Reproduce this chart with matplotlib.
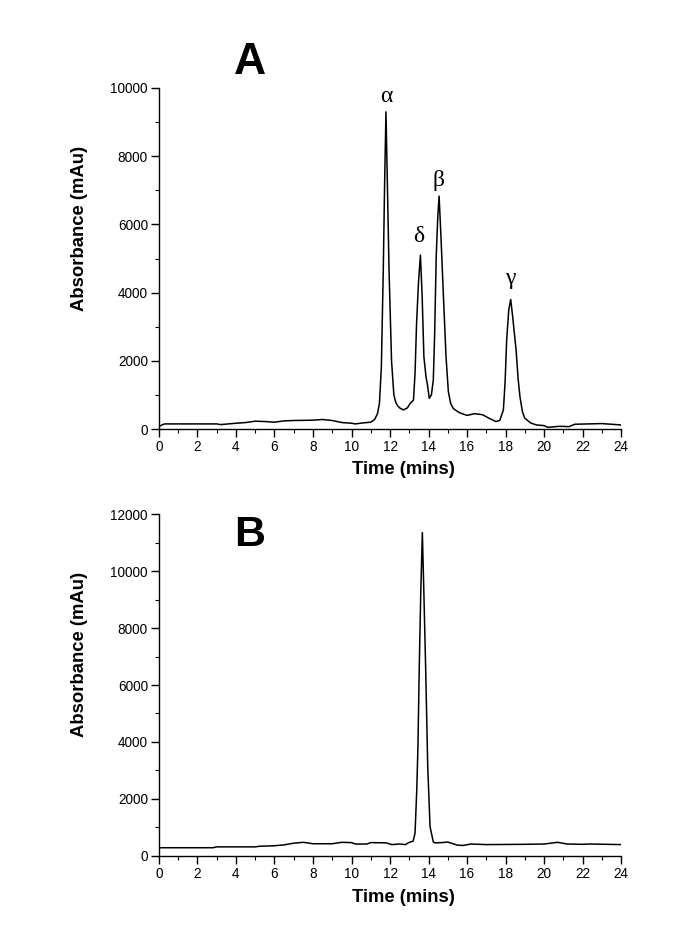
import matplotlib
matplotlib.use("Agg")
import matplotlib.pyplot as plt
from matplotlib.ticker import MultipleLocator

# Panel A chromatogram (time in min, absorbance in mAu)
time_a = [0.0, 0.15, 0.3, 1.0, 2.0, 3.0, 3.2, 3.6, 4.0, 4.5, 5.0, 5.5, 6.0, 6.5, 7.0, 8.0, 8.5,
          9.0, 9.5, 10.0, 10.2, 10.6, 11.0, 11.2, 11.35, 11.45, 11.55, 11.65, 11.72, 11.79,
          11.87, 11.95, 12.08, 12.2, 12.3, 12.4, 12.5, 12.7, 12.9, 13.05, 13.22, 13.3, 13.38,
          13.48, 13.58, 13.67, 13.76, 13.87, 13.94, 14.04, 14.15, 14.25, 14.32, 14.4, 14.48,
          14.55, 14.65, 14.77, 14.91, 15.03, 15.15, 15.29, 15.6, 16.0, 16.4, 16.8, 17.2,
          17.5, 17.7, 17.89, 17.98, 18.06, 18.17, 18.27, 18.37, 18.55, 18.65, 18.75, 18.88,
          19.0, 19.3, 19.6, 20.0, 20.2, 20.8, 21.3, 21.6, 22.3, 23.0, 24.0]
abs_a = [70, 120, 150, 150, 150, 150, 130, 150, 170, 190, 230, 220, 200, 240, 250, 260, 280,
         250, 190, 170, 150, 180, 200, 280, 450, 750, 1800, 4650, 7200, 9300,
         7000, 4650, 2000, 1000, 780, 680, 620, 560, 620, 750, 850, 1630, 3100,
         4300, 5100, 3900, 2120, 1530, 1320, 900, 1000, 1440, 2800, 5060, 6200,
         6830, 5600, 3960, 2120, 1100, 750, 600, 480, 400, 450, 420, 300,
         220, 250, 560, 1400, 2610, 3500, 3800, 3300, 2320, 1500, 950, 500,
         320, 180, 120, 100, 50, 80, 70, 140, 150, 160, 120]

# Panel B chromatogram
time_b = [0.0, 2.8, 3.0, 5.0, 5.2, 6.0, 6.5, 7.0, 7.5, 8.0, 9.0, 9.5, 10.0, 10.2, 10.8, 11.0,
          11.8, 12.1, 12.5, 12.8, 13.0, 13.2, 13.3, 13.39, 13.45, 13.52, 13.6, 13.68, 13.76,
          13.85, 13.96, 14.08, 14.25, 14.35, 14.7, 15.0, 15.5, 15.8, 16.2, 17.0, 19.0, 20.0,
          20.7, 21.2, 22.0, 22.4, 24.0]
abs_b = [290, 290, 320, 320, 340, 360, 390, 450, 480, 430, 430, 480, 470, 420, 420, 470,
         460, 400, 420, 400, 480, 520, 800, 2320, 3800, 6650, 9300, 11350, 9200,
         6650, 3130, 1030, 490, 460, 470, 490, 380, 370, 420, 400, 410, 420,
         480, 420, 410, 420, 400]

xticks = list(range(0, 25, 2))
yticks_a = list(range(0, 10001, 2000))
yticks_b = list(range(0, 12001, 2000))

peak_labels = ["α", "δ", "β", "γ"]
peak_label_x = [11.79, 13.5, 14.53, 18.26]
peak_label_y = [9590, 5480, 7120, 4250]

fig = plt.figure(figsize=(6.85, 9.39), dpi=100)
plt.rcParams['font.family'] = ['Liberation Sans', 'DejaVu Sans']

axA = fig.add_axes([0.2321, 0.5431, 0.6745, 0.3632])
axB = fig.add_axes([0.2321, 0.0884, 0.6745, 0.3642])

for ax, t, a, yt, ymax in [(axA, time_a, abs_a, yticks_a, 10000), (axB, time_b, abs_b, yticks_b, 12000)]:
    ax.plot(t, a, color='black', lw=1.1)
    ax.set_xlim(0, 24)
    ax.set_ylim(0, ymax)
    ax.set_xticks(xticks)
    ax.set_yticks(yt)
    ax.xaxis.set_minor_locator(MultipleLocator(1))
    ax.yaxis.set_minor_locator(MultipleLocator(1000))
    for s in ['top', 'right']:
        ax.spines[s].set_visible(False)
    for s in ['left', 'bottom']:
        ax.spines[s].set_linewidth(1.0)
    ax.tick_params(axis='both', which='major', direction='out', length=5.5, width=1.0,
                   labelsize=9.8, pad=2.5)
    ax.tick_params(axis='both', which='minor', direction='out', length=3, width=0.8)
    ax.set_xlabel("Time (mins)", fontsize=13.3, fontweight='bold')
    ax.set_ylabel("Absorbance (mAu)", fontsize=13.3, fontweight='bold')
    ax.xaxis.set_label_coords(0.528, -0.12)
    ax.yaxis.set_label_coords(-0.173, 0.588)
    ax.xaxis.label.set_va('center')
    ax.yaxis.label.set_va('center')

for lab, x, y in zip(peak_labels, peak_label_x, peak_label_y):
    axA.text(x, y, lab, ha='center', va='baseline', fontsize=17, family='Liberation Serif')

fig.text(250 / 685, 1 - 62 / 939, "A", fontsize=32, fontweight='bold', ha='center', va='center')
fig.text(250 / 685, 1 - 535 / 939, "B", fontsize=31, fontweight='bold', ha='center', va='center')

fig.savefig("out.png", dpi=100)
